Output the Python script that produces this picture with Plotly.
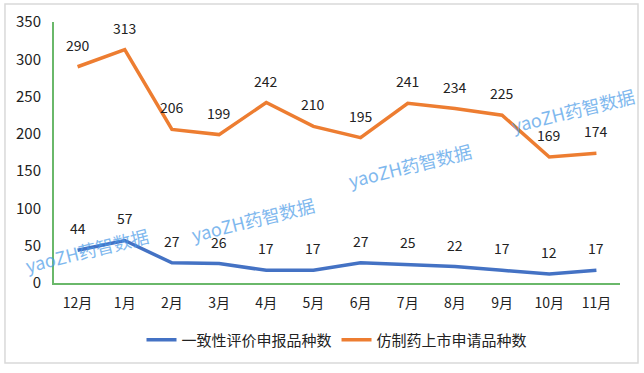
import plotly.graph_objects as go

months = ["12月", "1月", "2月", "3月", "4月", "5月", "6月", "7月", "8月", "9月", "10月", "11月"]
consistency = [44, 57, 27, 26, 17, 17, 27, 25, 22, 17, 12, 17]
generic = [290, 313, 206, 199, 242, 210, 195, 241, 234, 225, 169, 174]
series_names = ["一致性评价申报品种数", "仿制药上市申请品种数"]
y_ticks = [0, 50, 100, 150, 200, 250, 300, 350]

BLUE = "#4472C4"
ORANGE = "#ED7D31"
GREEN = "#6AB86A"
FONT = "Noto Sans CJK SC, Liberation Sans, sans-serif"

fig = go.Figure()
fig.add_trace(go.Scatter(x=months, y=consistency, mode="lines", name=series_names[0],
                         line=dict(color=BLUE, width=3.5)))
fig.add_trace(go.Scatter(x=months, y=generic, mode="lines", name=series_names[1],
                         line=dict(color=ORANGE, width=3.5)))

annotations = []
for series in (consistency, generic):
    for m, v in zip(months, series):
        annotations.append(dict(x=m, y=v, xref="x", yref="y", text=str(v), showarrow=False,
                                yshift=22, font=dict(size=14, color="#222222", family=FONT)))

# watermarks
for wx, wy in [(0.058, 0.126), (0.352, 0.245), (0.629, 0.452), (0.917, 0.663)]:
    annotations.append(dict(x=wx, y=wy, xref="paper", yref="paper", xanchor="center",
                            yanchor="middle", text="yaoZH药智数据",
                            showarrow=False, textangle=-14, opacity=0.7,
                            font=dict(size=18, color="#4A9BE8", family=FONT)))

fig.update_layout(
    width=644, height=373, autosize=False,
    margin=dict(l=54, r=24, t=22, b=90, pad=0),
    paper_bgcolor="white", plot_bgcolor="white",
    font=dict(family=FONT, size=14, color="#222222"),
    showlegend=True,
    legend=dict(orientation="h", x=0.5, xanchor="center", y=-0.218, yanchor="middle",
                font=dict(size=15, color="#222222"), itemwidth=30, tracegroupgap=0),
    annotations=annotations,
    xaxis=dict(type="category", range=[-0.5, 11.5], showgrid=False, showline=True,
               linecolor=GREEN, linewidth=2, automargin=False,
               ticks="", tickfont=dict(size=14, color="#222222"), ticklabelstandoff=6,
               fixedrange=True),
    yaxis=dict(range=[0, 350], tickvals=y_ticks, showgrid=False, zeroline=False,
               showline=True, linecolor=GREEN, linewidth=2, ticks="", automargin=False,
               tickfont=dict(size=15, color="#222222"), ticklabelstandoff=8),
    shapes=[dict(type="rect", xref="paper", yref="paper", x0=-0.0866, x1=1.0318,
                 y0=-0.3065, y1=1.069, line=dict(color="#D9D9D9", width=1.5),
                 fillcolor="rgba(0,0,0,0)", layer="below")],
)

fig.write_html("out.html", config={"displayModeBar": False},
               post_script="document.body.style.margin='0';")
